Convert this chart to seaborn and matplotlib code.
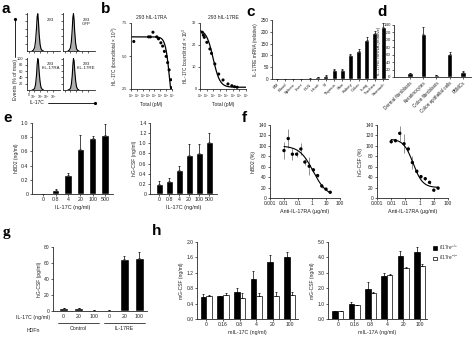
import numpy as np
import pandas as pd
import matplotlib
matplotlib.use("Agg")
import matplotlib.pyplot as plt
from matplotlib.lines import Line2D
import seaborn as sns

# ---------------- data ----------------
# a: flow cytometry histograms (% of max) on log-decade bins
a_bins = [1.7, 1.9, 2.1, 2.25, 2.4, 2.5, 2.6, 2.7, 2.8, 2.95, 3.1, 3.3, 3.5]
a_ctrl = [0, 2, 8, 25, 60, 90, 100, 82, 50, 20, 6, 1, 0]
a_stain = {
    "293": [0, 2, 9, 27, 62, 92, 100, 80, 48, 19, 6, 1, 0],
    "293\nGFP": [0, 2, 8, 24, 58, 90, 100, 84, 52, 21, 6, 1, 0],
    "293\nhIL-17RA": [0, 1, 5, 18, 48, 82, 100, 92, 62, 28, 9, 2, 0],
    "293\nhIL-17RE": [0, 1, 5, 17, 46, 80, 100, 93, 64, 30, 10, 2, 0],
}
# b: binding curves
b_ra_x = [3, 1e3, 2e3, 5.6e3, 2.5e4, 5e4, 1.25e5, 2.5e5, 5e5, 1e6, 1.8e6, 3.2e6, 6.3e6, 1e7]
b_ra_y = [6.1, 6.45, 6.45, 6.8, 6.45, 6.3, 6.0, 5.75, 5.35, 4.97, 4.5, 3.95, 3.2, 2.6]
b_ra_fit = dict(top=6.45, bottom=0.0, logec50=6.6, hill=1.2)
b_re_x = [2.2, 3.2, 4.5, 11, 32, 56, 180, 700, 3200, 1.8e4, 7e4, 1.8e5, 4.5e5]
b_re_y = [25.8, 24.5, 23.5, 21.2, 18.2, 16.2, 11.4, 6.8, 4.1, 2.3, 1.5, 1.05, 0.8]
b_re_fit = dict(top=27.0, bottom=0.8, logec50=2.0, hill=0.85)
# c: tissues
c_tissues = ["BM", "Blood", "Spleen", "Liver", "PLN", "Heart", "SI", "Thymus",
             "Skin", "Kidney", "Colon", "Lung", "Trachea", "Stomach"]
c_vals = [1, 1, 1, 1, 2, 7, 14, 38, 38, 103, 118, 167, 197, 222]
c_err = [0, 0, 0, 0, 0.5, 1, 2, 4, 5, 5, 8, 9, 8, 14]
# d: cell types
d_cells = ["Dermal fibroblasts", "Keratinocytes", "Colon fibroblasts",
           "Colon epithelial cells", "PBMCs"]
d_vals = [10, 115, 5, 62, 14]
d_err = [2, 20, 1, 6, 2]
# e: IL-17C dose response
e_doses = ["0", "0.8", "4", "20", "100", "500"]
e_hbd2 = [0.0, 0.06, 0.27, 0.63, 0.79, 0.83]
e_hbd2_err = [0, 0.01, 0.03, 0.2, 0.02, 0.16]
e_gcsf = [0.19, 0.25, 0.47, 0.76, 0.81, 1.03]
e_gcsf_err = [0.06, 0.06, 0.09, 0.22, 0.18, 0.18]
# f: anti-IL-17RA inhibition
f_x = [0.01, 0.02, 0.04, 0.08, 0.16, 0.31, 0.63, 1.25, 2.5, 5, 10, 20]
f_hbd2 = [91, 114, 84, 84, 94, 69, 61, 54, 43, 23, 17, 11]
f_hbd2_err = [16, 19, 11, 6, 11, 5, 17, 4, 3, 3, 2, 2]
f_hbd2_fit = dict(top=100, bottom=3, ec50=1.2, hill=0.9)
f_gcsf = [108, 110, 124, 104, 94, 68, 51, 41, 37, 30, 15, 19]
f_gcsf_err = [3, 3, 15, 18, 5, 12, 4, 3, 3, 3, 2, 2]
f_gcsf_fit = dict(top=113, bottom=20, ec50=0.35, hill=1.3)
# g: HDFn
g_keys = ["C0", "C20", "C100", "R0", "R20", "R100"]
g_doses = ["0", "20", "100", "0", "20", "100"]
g_groups = ["Control", "IL-17RE"]
g_vals = [3.5, 3.5, 1.0, 1.0, 65, 66]
g_err = [0.5, 0.5, 0.3, 0.3, 4, 8]
# h: mouse G-CSF
h_doses = ["0", "0.16", "0.8", "4", "20", "100"]
h_genos = ["$Il17re^{+/+}$", "$Il17re^{-/-}$"]
h_c_wt = [0.57, 0.59, 0.70, 1.03, 1.47, 1.62]
h_c_wt_err = [0.07, 0.02, 0.1, 0.22, 0.2, 0.12]
h_c_ko = [0.60, 0.62, 0.55, 0.60, 0.61, 0.62]
h_c_ko_err = [0.02, 0.06, 0.12, 0.07, 0.08, 0.08]
h_a_wt = [0.5, 1.0, 1.95, 2.82, 4.08, 4.35]
h_a_wt_err = [0.02, 0.1, 0.45, 0.15, 0.35, 0.3]
h_a_ko = [0.5, 0.9, 1.72, 2.85, 3.3, 3.42]
h_a_ko_err = [0.02, 0.03, 0.05, 0.08, 0.07, 0.15]

# ---------------- style ----------------
sns.set_style("ticks")
plt.rcParams["font.family"] = ["Liberation Sans", "DejaVu Sans"]
plt.rcParams["mathtext.fontset"] = "custom"
plt.rcParams["mathtext.rm"] = "Liberation Sans"
plt.rcParams["mathtext.it"] = "Liberation Sans:italic"
plt.rcParams["mathtext.bf"] = "Liberation Sans:bold"
TXT = "#222222"
FS = 3.6

W, H = 474, 343
fig = plt.figure(figsize=(4.74, 3.43), dpi=100)


def A(x0, y0, x1, y1):
    return fig.add_axes([x0 / W, 1 - y1 / H, (x1 - x0) / W, (y1 - y0) / H])


def sty(ax, fs=FS):
    sns.despine(ax=ax)
    for s in ["left", "bottom"]:
        ax.spines[s].set_linewidth(0.6)
    ax.tick_params(labelsize=fs, length=1.5, width=0.5, pad=1, colors=TXT)
    ax.minorticks_off()


def T(x, y, s, **kw):
    kw.setdefault("color", TXT)
    fig.text(x / W, 1 - y / H, s, **kw)


def bar_err(ax, errs_list):
    pts = []
    for cont, errs in zip(list(ax.containers), errs_list):
        xs = [p.get_x() + p.get_width() / 2 for p in cont]
        ys = [p.get_height() for p in cont]
        pts.append((xs, ys, errs))
    for xs, ys, errs in pts:
        ax.errorbar(xs, ys, yerr=[np.zeros(len(errs)), errs], fmt="none",
                    ecolor="black", elinewidth=0.5, capsize=0.8, capthick=0.5)


def letter(x, y, s, **kw):
    T(x, y, s, fontsize=11, fontweight="bold", color="black", va="top", **kw)


# ---------------- panel a ----------------
boxes = [(27, 13, 60, 51), (63, 13, 95, 51), (27, 58, 60, 90), (63, 58, 95, 90)]
for i, (name, (x0, y0, x1, y1)) in enumerate(zip(a_stain.keys(), boxes)):
    ax = A(x0, y0, x1, y1)
    ax.fill_between(a_bins, a_ctrl, color="#b0b0b0", lw=0)
    sns.lineplot(x=a_bins, y=a_stain[name], ax=ax, color="black", lw=0.8)
    ax.set_xlim(0.9, 6.1)
    ax.set_ylim(0, 102)
    sty(ax, 2.8)
    ax.set_xticks([1.2, 2, 3, 4, 5])
    ax.set_yticks([20, 40, 60, 80, 100])
    if i == 2:
        ax.set_xticklabels(["0", "$10^2$", "$10^3$", "$10^4$", "$10^5$"], fontsize=2.4)
    else:
        ax.set_xticklabels([])
        ax.set_yticklabels([])
    ax.text(0.72, 0.88, name, transform=ax.transAxes, fontsize=3.2,
            ha="center", va="top", color=TXT, linespacing=1.0)
letter(2, 2, "a")
T(15, 80, "Events (% of max)", rotation=90, ha="center", va="center", fontsize=3.6)
fig.add_artist(Line2D([15 / W, 15 / W], [1 - 57 / H, 1 - 19 / H], lw=0.6,
                      color="black", marker="o", markevery=[1], ms=1.3))
T(29, 103, "IL-17C", ha="left", va="center", fontsize=3.6)
fig.add_artist(Line2D([48 / W, 95 / W], [1 - 103 / H, 1 - 103 / H], lw=0.6,
                      color="black", marker="o", markevery=[1], ms=1.3))


# ---------------- panel b ----------------
def logistic_log(x, top, bottom, logec50, hill):
    return bottom + (top - bottom) / (1 + 10 ** ((np.log10(x) - logec50) * hill))


letter(101, 2, "b")
for (x0, x1, xs, ys, fit, ylim, yt, title, ylab) in [
    (131, 172, b_ra_x, b_ra_y, b_ra_fit, (2.5, 7.5), [2.5, 5.0, 7.5], "293 hIL-17RA",
     "hIL-17C (bound/total × 10$^3$)"),
    (200, 246, b_re_x, b_re_y, b_re_fit, (0, 30), [0, 10, 20, 30], "293 hIL-17RE",
     "hIL-17C bound/total × 10$^3$"),
]:
    ax = A(x0, 23, x1, 89)
    grid = np.logspace(0, 7.2, 200)
    sns.lineplot(x=grid, y=logistic_log(grid, **fit), ax=ax, color="black", lw=0.9)
    sns.scatterplot(x=xs, y=ys, ax=ax, color="black", s=5, edgecolor="none")
    ax.set_xscale("log")
    ax.set_xlim(1, 1e7)
    ax.set_ylim(*ylim)
    ax.set_yticks(yt)
    ax.set_xticks([10.0 ** k for k in range(8)])
    sty(ax, 2.8)
    ax.tick_params(axis="x", labelsize=2.1)
    ax.minorticks_off()
    ax.set_title(title, fontsize=3.6, pad=3, color=TXT)
    ax.set_xlabel("Total (pM)", fontsize=3.6, labelpad=1.5, color=TXT)
    ax.set_ylabel(ylab, fontsize=3.4, labelpad=1.5, color=TXT)

# ---------------- panel c ----------------
letter(246, 5, "c")
ax = A(272, 20, 388, 79)
dfc = pd.DataFrame({"tissue": c_tissues, "val": c_vals})
sns.barplot(data=dfc, x="tissue", y="val", color="black", saturation=1, width=0.6,
            errorbar=None, ax=ax)
bar_err(ax, [c_err])
ax.set_xlim(-0.6, 13.6)
ax.set_ylim(0, 250)
ax.set_yticks([0, 50, 100, 150, 200, 250])
sty(ax, 3.4)
ax.set_xticks(range(len(c_tissues)))
ax.set_xticklabels(c_tissues, rotation=45, ha="right", rotation_mode="anchor", fontsize=3.1)
ax.set_xlabel("")
ax.set_ylabel("IL-17RE mRNA (relative)", fontsize=3.4, labelpad=1.5, color=TXT)

# ---------------- panel d ----------------
letter(377, 5, "d")
ax = A(394, 25, 471, 77)
dfd = pd.DataFrame({"cell": d_cells, "val": d_vals})
sns.barplot(data=dfd, x="cell", y="val", color="black", saturation=1, width=0.4,
            errorbar=None, ax=ax)
bar_err(ax, [d_err])
ax.set_xlim(-1.2, 4.6)
ax.set_ylim(0, 140)
ax.set_yticks(range(0, 141, 20))
sty(ax, 3.2)
ax.set_xticks(range(len(d_cells)))
ax.set_xticklabels(d_cells, rotation=45, ha="right", rotation_mode="anchor", fontsize=3.3)
ax.set_xlabel("")
ax.set_ylabel("IL-17RE mRNA (relative)", fontsize=3.2, labelpad=1.5, color=TXT)

# ---------------- panel e ----------------
letter(3, 111, "e")
for (x0, x1, vals, errs, ylim, yt, ylab, width, xl) in [
    (32, 113, e_hbd2, e_hbd2_err, (0, 1.0), np.arange(0, 1.01, 0.2), "hBD2 (ng/ml)", 0.6, (-0.93, 5.65)),
    (150, 217, e_gcsf, e_gcsf_err, (0, 1.4), np.arange(0, 1.41, 0.2), "hG-CSF (ng/ml)", 0.7, (-0.9, 5.8)),
]:
    ax = A(x0, 123, x1, 194)
    dfe = pd.DataFrame({"dose": e_doses, "val": vals})
    sns.barplot(data=dfe, x="dose", y="val", color="black", saturation=1, width=width,
                errorbar=None, ax=ax)
    bar_err(ax, [errs])
    ax.set_xlim(*xl)
    ax.set_ylim(*ylim)
    ax.set_yticks(yt)
    ax.set_yticklabels(["0"] + [f"{v:.1f}" for v in yt[1:]])
    sty(ax, 3.8)
    ax.set_xlabel("IL-17C (ng/ml)", fontsize=4.0, labelpad=2, color=TXT)
    ax.set_ylabel(ylab, fontsize=3.6, labelpad=1.5, color=TXT)


# ---------------- panel f ----------------
def logistic(x, top, bottom, ec50, hill):
    x = np.asarray(x, dtype=float)
    return bottom + (top - bottom) / (1 + (x / ec50) ** hill)


letter(242, 111, "f")
for (x0, x1, vals, errs, fit, ylab) in [
    (270, 340, f_hbd2, f_hbd2_err, f_hbd2_fit, "hBD2 (%)"),
    (377, 448, f_gcsf, f_gcsf_err, f_gcsf_fit, "hG-CSF (%)"),
]:
    ax = A(x0, 125, x1, 198)
    grid = np.logspace(-2, np.log10(20), 150)
    ax.errorbar(f_x, vals, yerr=errs, fmt="none", ecolor="#666666", elinewidth=0.5)
    sns.lineplot(x=grid, y=logistic(grid, **fit), ax=ax, color="black", lw=0.8)
    sns.scatterplot(x=f_x, y=vals, ax=ax, color="black", s=6, edgecolor="none", zorder=3)
    ax.set_xscale("log")
    ax.set_xlim(0.001, 100)
    ax.set_ylim(0, 140)
    ax.set_yticks(range(0, 141, 20))
    ax.set_xticks([0.001, 0.01, 0.1, 1, 10, 100])
    ax.set_xticklabels(["0.001", "0.01", "0.1", "1", "10", "100"])
    sty(ax, 3.5)
    ax.set_xlabel("Anti-IL-17RA (µg/ml)", fontsize=3.9, labelpad=1.5, color=TXT)
    ax.set_ylabel(ylab, fontsize=3.7, labelpad=1.5, color=TXT)

# ---------------- panel g ----------------
T(3, 226, "g", fontsize=11, fontweight="bold", color="black", va="top",
  family=["Liberation Serif", "DejaVu Serif"])
ax = A(53, 247, 147, 311)
dfg = pd.DataFrame({"key": g_keys, "val": g_vals})
sns.barplot(data=dfg, x="key", y="val", color="black", saturation=1, width=0.6,
            errorbar=None, ax=ax)
bar_err(ax, [g_err])
ax.set_xlim(-0.7, 5.5)
ax.set_ylim(0, 80)
ax.set_yticks(range(0, 81, 20))
sty(ax, 3.6)
ax.set_xticks(range(len(g_keys)))
ax.set_xticklabels(g_doses, fontsize=3.8)
ax.tick_params(axis="x", length=0, pad=2.5)
ax.set_xlabel("")
ax.set_ylabel("hG-CSF (pg/ml)", fontsize=3.6, labelpad=1.5, color=TXT)
trans = ax.get_xaxis_transform()
for gi, gname in enumerate(g_groups):
    lo, hi = gi * 3 - 0.35, gi * 3 + 2.35
    ax.add_line(Line2D([lo, hi], [-0.19, -0.19], transform=trans, lw=0.5,
                       color="black", clip_on=False))
    ax.text(gi * 3 + 1, -0.24, gname, transform=trans, ha="center", va="top",
            fontsize=3.8, color=TXT)
T(50, 318, "IL-17C (ng/ml)", ha="right", va="center", fontsize=3.8)
T(40, 331, "HDFn", ha="right", va="center", fontsize=3.8)

# ---------------- panel h ----------------
letter(152, 224, "h")
for (x0, x1, wt, wte, ko, koe, ylim, yt, fmt, xlab, xl, leg) in [
    (197, 298, h_c_wt, h_c_wt_err, h_c_ko, h_c_ko_err, (0, 2.0),
     np.arange(0, 2.01, 0.4), "{:.1f}", "mIL-17C (ng/ml)", (-0.55, 5.5), False),
    (328, 427, h_a_wt, h_a_wt_err, h_a_ko, h_a_ko_err, (0, 5.0),
     np.arange(0, 5.01, 1.0), "{:.1f}", "mIL-17A (ng/ml)", (-0.6, 5.45), True),
]:
    ax = A(x0, 242, x1, 319)
    dfh = pd.DataFrame({
        "dose": h_doses * 2,
        "geno": [h_genos[0]] * len(h_doses) + [h_genos[1]] * len(h_doses),
        "val": list(wt) + list(ko),
    })
    sns.barplot(data=dfh, x="dose", y="val", hue="geno", hue_order=h_genos,
                palette=["black", "white"], saturation=1, width=0.68, gap=0,
                edgecolor="black", linewidth=0.5, errorbar=None, ax=ax, legend=leg)
    bar_err(ax, [wte, koe])
    ax.set_xlim(*xl)
    ax.set_ylim(*ylim)
    ax.set_yticks(yt)
    ax.set_yticklabels([fmt.format(v) for v in yt])
    sty(ax, 3.6)
    ax.set_xlabel(xlab, fontsize=3.8, labelpad=2, color=TXT)
    ax.set_ylabel("mG-CSF (ng/ml)", fontsize=3.6, labelpad=1.5, color=TXT)
    if leg:
        handles, labels = ax.get_legend_handles_labels()
        ax.legend(handles, labels, loc="upper left", bbox_to_anchor=(1.04, 1.02),
                  frameon=False, fontsize=3.4, handlelength=0.8, handleheight=0.8,
                  handletextpad=0.4, borderaxespad=0, labelspacing=0.3)

fig.savefig("out.png", dpi=100)
